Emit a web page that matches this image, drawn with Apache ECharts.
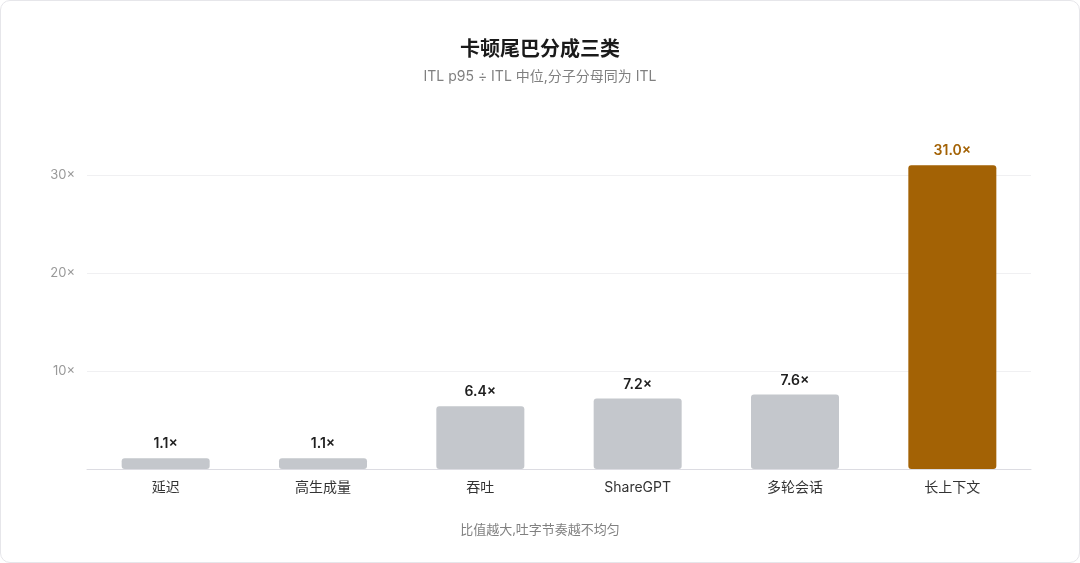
<!DOCTYPE html>
<html>
<head>
    <meta charset="utf-8">
    <script src="https://cdn.jsdelivr.net/npm/echarts@6/dist/echarts.min.js"></script>
    <style>
        html, body { margin: 0; padding: 0; background: #fff; }
        #card {
            position: absolute; left: 0; top: 0;
            width: 1078px; height: 561px;
            border: 1px solid #e6e6ea; border-radius: 10px;
            background: #fff; overflow: hidden;
        }
        #container { width: 1078px; height: 561px; }
    </style>
</head>
<body>
    <div id="card"><div id="container"></div></div>
    <script type="text/javascript">
        // data
        let categories = ['延迟', '高生成量', '吞吐', 'ShareGPT', '多轮会话', '长上下文'];
        let ratios = [1.1, 1.1, 6.4, 7.2, 7.6, 31.0];
        let highlight = [false, false, false, false, false, true];
        let yTicks = [0, 10, 20, 30];

        let FONT = '"Inter", "Noto Sans CJK SC", sans-serif';
        let GREY = '#c4c7cc';
        let ACCENT = '#a36205';

        var dom = document.getElementById('container');
        var myChart = echarts.init(dom, null, { renderer: 'canvas' });

        let data = ratios.map(function (v, i) {
            return {
                value: v,
                itemStyle: { color: highlight[i] ? ACCENT : GREY },
                label: { color: highlight[i] ? ACCENT : '#1f1f1f' }
            };
        });

        var option = {
            animation: false,
            title: {
                text: '卡顿尾巴分成三类',
                subtext: 'ITL p95 ÷ ITL 中位,分子分母同为 ITL',
                left: 'center',
                top: 34,
                itemGap: 10,
                textStyle: { fontFamily: FONT, fontSize: 20, fontWeight: 'bold', color: '#1a1a1a' },
                subtextStyle: { fontFamily: FONT, fontSize: 14, color: '#808080' }
            },
            graphic: [{
                type: 'text',
                left: 'center',
                top: 523,
                style: { text: '比值越大,吐字节奏越不均匀', font: '13px ' + FONT, fill: '#808080' }
            }],
            grid: { left: 86, right: 48, top: 174, bottom: 93 },
            xAxis: {
                type: 'category',
                data: categories,
                axisTick: { show: false },
                axisLine: { lineStyle: { color: '#dcdce2', width: 1 } },
                axisLabel: { margin: 12, fontFamily: FONT, fontSize: 14, color: '#333' }
            },
            yAxis: {
                type: 'value',
                min: yTicks[0],
                max: yTicks[yTicks.length - 1],
                interval: 10,
                axisLine: { show: false },
                axisTick: { show: false },
                splitLine: { lineStyle: { color: '#f0f0f2' } },
                axisLabel: {
                    margin: 12, fontFamily: FONT, fontSize: 13, color: '#999',
                    formatter: function (v) { return v === 0 ? '' : v + '×'; }
                }
            },
            series: [{
                type: 'bar',
                clip: false,
                barWidth: 88,
                data: data,
                itemStyle: { borderRadius: 3 },
                label: {
                    show: true,
                    position: 'top',
                    distance: 7,
                    fontFamily: FONT,
                    fontSize: 14,
                    fontWeight: 600,
                    formatter: function (p) { return p.value.toFixed(1) + '×'; }
                }
            }]
        };

        myChart.setOption(option);
        window.addEventListener('resize', myChart.resize);
    </script>
</body>
</html>
